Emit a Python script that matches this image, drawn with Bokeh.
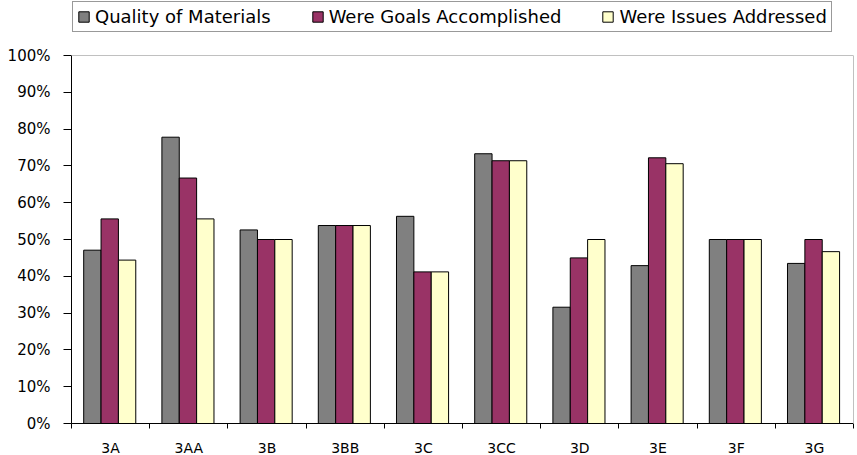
from bokeh.plotting import figure
from bokeh.models import (ColumnDataSource, Range1d, FixedTicker, PrintfTickFormatter,
                          Legend, LegendItem, LinearAxis, Span)
from bokeh.transform import dodge
from bokeh.embed import file_html
from bokeh.resources import INLINE

categories = ["3A", "3AA", "3B", "3BB", "3C", "3CC", "3D", "3E", "3F", "3G"]
quality = [47.1, 77.8, 52.6, 53.8, 56.3, 73.3, 31.6, 42.9, 50.0, 43.5]
goals = [55.6, 66.7, 50.0, 53.8, 41.2, 71.4, 45.0, 72.2, 50.0, 50.0]
issues = [44.4, 55.6, 50.0, 53.8, 41.2, 71.4, 50.0, 70.6, 50.0, 46.7]
series_names = ["Quality of Materials", "Were Goals Accomplished", "Were Issues Addressed"]
y_ticks = list(range(0, 101, 10))
y_max = 100

FONT = "DejaVu Sans"

# layout (pixels)
FRAME_H = 423          # frame spans from the top of the canvas to the x axis
PLOT_H = 368           # height of the 0-100% region
y_top = y_max * FRAME_H / PLOT_H   # extra room above 100% holds the legend

idx = list(range(len(categories)))
source = ColumnDataSource(data=dict(x=idx, cat=categories, quality=quality,
                                    goals=goals, issues=issues))

p = figure(frame_width=782, frame_height=FRAME_H,
           min_border_left=71, min_border_right=4, min_border_top=0, min_border_bottom=32,
           x_range=Range1d(-0.5, len(categories) - 0.5), y_range=Range1d(0, y_top),
           output_backend="svg", toolbar_location=None, tools="")

colors = ["#808080", "#993366", "#FFFFCC"]
fields = ["quality", "goals", "issues"]
offsets = [-0.233, -0.011, 0.211]
renderers = []
for f, c, off in zip(fields, colors, offsets):
    r = p.vbar(x=dodge("x", off, range=p.x_range), top=f, width=0.222, bottom=0,
               source=source, fill_color=c, line_color="black", line_width=1)
    renderers.append(r)

p.xgrid.visible = False
p.ygrid.visible = False
p.outline_line_color = None
p.background_fill_color = "white"
p.border_fill_color = "white"

# light plot-area border: top at 100% and right side
p.add_layout(Span(location=y_max, dimension="width", line_color="#c0c0c0", line_width=1))
right_axis = LinearAxis(bounds=(0, y_max), ticker=FixedTicker(ticks=[]),
                        axis_line_color="#c0c0c0", major_tick_line_color=None,
                        minor_tick_line_color=None, major_label_text_font_size="0px")
p.add_layout(right_axis, "right")

# x axis: labels at category centres, ticks at category boundaries
xa = p.xaxis[0]
xa.ticker = FixedTicker(ticks=idx, minor_ticks=[i - 0.5 for i in range(len(categories) + 1)])
xa.major_label_overrides = {i: c for i, c in zip(idx, categories)}
xa.major_tick_line_color = None
xa.major_tick_out = 0
xa.major_tick_in = 0
xa.minor_tick_out = 5
xa.minor_tick_in = 0
xa.minor_tick_line_color = "black"
xa.axis_line_color = "black"
xa.major_label_text_font = FONT
xa.major_label_text_font_size = "14px"
xa.major_label_text_color = "black"
xa.major_label_standoff = 11

ya = p.yaxis[0]
ya.ticker = FixedTicker(ticks=y_ticks)
ya.bounds = (0, y_max)
ya.formatter = PrintfTickFormatter(format="%d%%")
ya.major_tick_out = 8
ya.major_tick_in = 0
ya.minor_tick_line_color = None
ya.axis_line_color = "black"
ya.major_tick_line_color = "black"
ya.major_label_text_font = FONT
ya.major_label_text_font_size = "15px"
ya.major_label_text_color = "black"
ya.major_label_standoff = 13

legend = Legend(items=[LegendItem(label=n, renderers=[r]) for n, r in zip(series_names, renderers)],
                orientation="horizontal", location=(1, 391),
                label_text_font=FONT, label_text_font_size="18px", label_text_color="black",
                glyph_width=13, glyph_height=13, label_standoff=5, spacing=40,
                padding=4, margin=0, label_height=20,
                border_line_color="#333333", border_line_width=1.5,
                background_fill_color="white", background_fill_alpha=1.0)
p.add_layout(legend, "center")

open("out.html", "w").write(file_html(p, INLINE))
